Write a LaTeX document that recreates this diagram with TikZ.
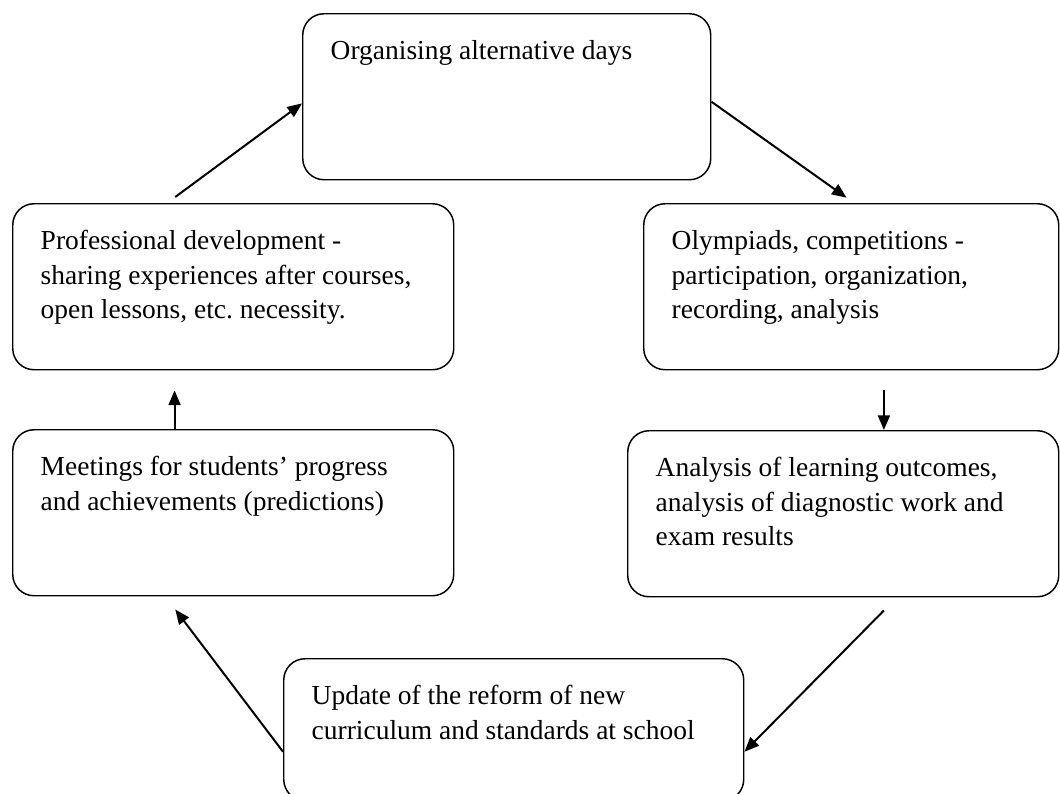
\documentclass[tikz,border=0pt]{standalone}
\usepackage{fontspec}
\setmainfont{Liberation Serif}
\usetikzlibrary{arrows.meta}
\frenchspacing

\newcommand{\stagetext}[3]{\parbox[c][#2][t]{#1}{\begin{tabular}{@{}l@{}}#3\end{tabular}}}

\tikzset{
  stage/.style={draw, line width=1.1pt, rounded corners=16pt, anchor=north west,
    inner xsep=21pt, inner ysep=16.5pt, font=\fontsize{20.6}{25.9}\selectfont},
  flow/.style={line width=1.5pt, -{Triangle[length=11pt,width=9pt]}}
}

\begin{document}
\begin{tikzpicture}[x=0.75pt,y=0.75pt,yscale=-1,xscale=1]
\useasboundingbox (0,0) rectangle (1060,793);

%Rounded Rect: top
\node[stage] (alt) at (302,13) {\stagetext{264pt}{91.5pt}{Organising alternative days}};
%Rounded Rect: right
\node[stage] (olymp) at (643,203) {\stagetext{269.25pt}{91.5pt}{Olympiads, competitions -\\ participation, organization,\\ recording, analysis}};
\node[stage] (analys) at (627,430) {\stagetext{281.25pt}{91.5pt}{Analysis of learning outcomes,\\ analysis of diagnostic work and\\ exam results}};
%Rounded Rect: bottom
\node[stage] (update) at (283,658) {\stagetext{303pt}{73.5pt}{Update of the reform of new\\ curriculum and standards at school}};
%Rounded Rect: left
\node[stage] (meet) at (12,429) {\stagetext{288.75pt}{91.5pt}{Meetings for students' progress\\ and achievements (predictions)}};
\node[stage] (prof) at (12,203) {\stagetext{288.75pt}{91.5pt}{Professional development -\\ sharing experiences after courses,\\ open lessons, etc. necessity.}};

%Straight Lines with arrows
\coordinate (down) at ([xshift=24.5pt,yshift=15pt]olymp.south);
\coordinate (up) at ([xshift=-44pt]meet.north);
\draw[flow] ([xshift=-43.5pt,yshift=-4.5pt]prof.north) -- ([yshift=5pt]alt.west);
\draw[flow] ([yshift=3.75pt]alt.east) -- ([xshift=-3.5pt,yshift=-4pt]olymp.north);
\draw[flow] (down) -- (down |- analys.north);
\draw[flow] ([xshift=30.5pt,yshift=9.75pt]analys.south) -- ([yshift=16.5pt]update.east);
\draw[flow] ([yshift=16.5pt]update.west) -- ([xshift=-43.5pt,yshift=9.75pt]meet.south);
\draw[flow] (up) -- ([yshift=15pt]up |- prof.south);

\end{tikzpicture}
\end{document}
